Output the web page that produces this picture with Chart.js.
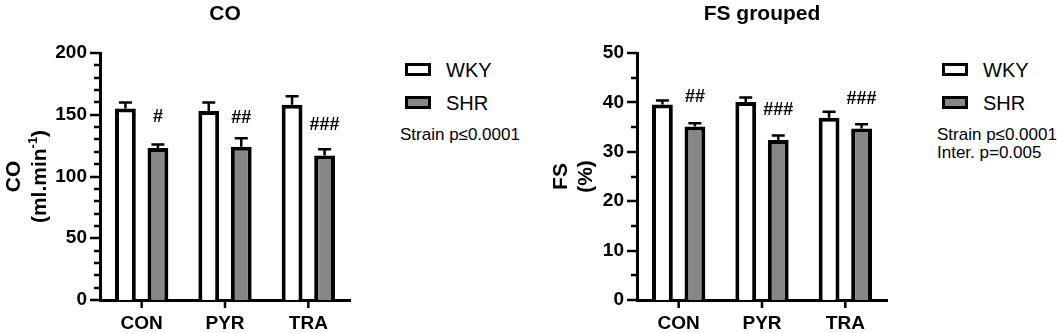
<!DOCTYPE html>
<html><head><meta charset="utf-8">
<script src="https://cdn.jsdelivr.net/npm/chart.js@4.4.1/dist/chart.umd.min.js"></script>
<style>
html,body{margin:0;padding:0;background:#fff;}
body{width:1057px;height:333px;position:relative;overflow:hidden;font-family:"Liberation Sans",Arial,sans-serif;color:#000;}
canvas{position:absolute;top:0;}
.sw{position:absolute;width:20px;height:7px;border:3px solid #000;}
.lt{position:absolute;font-size:20px;line-height:20px;white-space:nowrap;}
.st{position:absolute;font-size:17px;line-height:18px;white-space:nowrap;}
</style></head><body>
<canvas id="c1" width="365" height="333" style="left:0"></canvas>
<canvas id="c2" width="380" height="333" style="left:520px"></canvas>

<div class="sw" style="left:405px;top:63px;background:#fff"></div>
<div class="lt" style="left:446px;top:60px">WKY</div>
<div class="sw" style="left:405px;top:96px;background:#878787"></div>
<div class="lt" style="left:446px;top:93px">SHR</div>
<div class="st" style="left:400px;top:126px">Strain p≤0.0001</div>

<div class="sw" style="left:942px;top:63px;background:#fff"></div>
<div class="lt" style="left:983px;top:60px">WKY</div>
<div class="sw" style="left:942px;top:96px;background:#878787"></div>
<div class="lt" style="left:983px;top:93px">SHR</div>
<div class="st" style="left:937px;top:126px">Strain p≤0.0001</div>
<div class="st" style="left:937px;top:144px">Inter. p=0.005</div>

<script>
// ---- data ----
const categories = ['CON', 'PYR', 'TRA'];
const seriesNames = ['WKY', 'SHR'];

const coWKY = [155, 153, 158];
const coWKYsem = [5, 7, 7];
const coSHR = [123, 124, 117];
const coSHRsem = [3, 7, 5];
const coHash = ['#', '##', '###'];
const coHashAt = [148, 147, 142];
const coTicks = [0, 50, 100, 150, 200];

const fsWKY = [39.6, 40.1, 36.9];
const fsWKYsem = [0.8, 0.9, 1.2];
const fsSHR = [35.1, 32.4, 34.7];
const fsSHRsem = [0.7, 0.9, 0.9];
const fsHash = ['##', '###', '###'];
const fsHashAt = [41.1, 38.5, 40.7];
const fsTicks = [0, 10, 20, 30, 40, 50];

// ---- drawing ----
const FONT = '"Liberation Sans", Arial, sans-serif';

function drawRotated(ctx, parts, cx, cy) {
  ctx.save();
  ctx.translate(cx, cy);
  ctx.rotate(-Math.PI / 2);
  ctx.textBaseline = 'middle';
  ctx.textAlign = 'left';
  let w = 0;
  parts.forEach(p => { ctx.font = p.font; p.w = ctx.measureText(p.t).width; w += p.w; });
  let x = -w / 2;
  parts.forEach(p => { ctx.font = p.font; ctx.fillText(p.t, x, p.dy || 0); x += p.w; });
  ctx.restore();
}

const decoPlugin = {
  id: 'deco',
  afterDatasetsDraw(chart, args, o) {
    const ctx = chart.ctx, ca = chart.chartArea, ys = chart.scales.y, xs = chart.scales.x;
    ctx.save();
    ctx.strokeStyle = '#000';
    ctx.fillStyle = '#000';
    // error bars (upper SEM)
    chart.data.datasets.forEach((ds, di) => {
      const meta = chart.getDatasetMeta(di);
      meta.data.forEach((bar, i) => {
        const top = ys.getPixelForValue(ds.data[i] + ds.sem[i]);
        ctx.lineWidth = 2.5;
        ctx.beginPath();
        ctx.moveTo(bar.x, bar.y);
        ctx.lineTo(bar.x, top);
        ctx.moveTo(bar.x - 6.5, top);
        ctx.lineTo(bar.x + 6.5, top);
        ctx.stroke();
      });
    });
    // y ticks (major + minor)
    ctx.lineWidth = 2.5;
    for (let v = ys.min; v <= ys.max + 1e-9; v += o.minor) {
      const py = Math.round(ys.getPixelForValue(v));
      const major = Math.abs(v / o.major - Math.round(v / o.major)) < 1e-6;
      const len = major ? 10 : 6;
      ctx.beginPath();
      ctx.moveTo(ca.left - len, py);
      ctx.lineTo(ca.left, py);
      ctx.stroke();
    }
    // x category ticks
    categories.forEach((c, i) => {
      const px = xs.getPixelForValue(i);
      ctx.beginPath();
      ctx.moveTo(px, ca.bottom);
      ctx.lineTo(px, ca.bottom + 8);
      ctx.stroke();
    });
    // significance marks above SHR bars
    const shr = chart.getDatasetMeta(1);
    ctx.font = 'bold 18px ' + FONT;
    ctx.textAlign = 'center';
    ctx.textBaseline = 'middle';
    o.hash.forEach((h, i) => {
      ctx.fillText(h, shr.data[i].x, ys.getPixelForValue(o.hashAt[i]));
    });
    // title
    ctx.font = 'bold 21px ' + FONT;
    ctx.fillText(o.title, (ca.left + ca.right) / 2, 14);
    // y-axis title (two lines, rotated)
    const cy = (ca.top + ca.bottom) / 2;
    drawRotated(ctx, [{t: o.yTitle1, font: 'bold 21px ' + FONT}], o.yTitleX1, cy);
    drawRotated(ctx, o.yTitle2.map(p => ({t: p.t, font: (p.sup ? 'bold 13px ' : 'bold 21px ') + FONT, dy: p.sup ? -7 : 0})), o.yTitleX2, cy);
    ctx.restore();
  }
};

function makeChart(id, wky, wkySem, shr, shrSem, ticks, yWidth, rightPad, decoOpts) {
  const step = ticks[1] - ticks[0];
  return new Chart(document.getElementById(id), {
    type: 'bar',
    data: {
      labels: categories,
      datasets: [
        {label: seriesNames[0], data: wky, sem: wkySem, backgroundColor: '#ffffff', borderColor: '#000000', borderWidth: 4, borderSkipped: 'start'},
        {label: seriesNames[1], data: shr, sem: shrSem, backgroundColor: '#878787', borderColor: '#000000', borderWidth: 4, borderSkipped: 'start'}
      ]
    },
    options: {
      responsive: false,
      animation: false,
      devicePixelRatio: 1,
      events: [],
      layout: {padding: {top: 53, right: rightPad, left: 0, bottom: 0}},
      datasets: {bar: {barPercentage: 0.64, categoryPercentage: 0.78}},
      plugins: {legend: {display: false}, title: {display: false}, tooltip: {enabled: false}, deco: decoOpts},
      scales: {
        x: {
          grid: {display: false, drawTicks: false},
          border: {display: true, color: '#000', width: 3},
          ticks: {color: '#000', font: {family: FONT, size: 19, weight: 'bold'}, padding: 12, maxRotation: 0},
          afterFit: a => { a.height = 33; }
        },
        y: {
          min: ticks[0], max: ticks[ticks.length - 1],
          grid: {display: false, drawTicks: false},
          border: {display: true, color: '#000', width: 3},
          ticks: {stepSize: step, color: '#000', font: {family: FONT, size: 19, weight: 'bold'}, padding: 13},
          afterFit: a => { a.width = yWidth; }
        }
      }
    },
    plugins: [decoPlugin]
  });
}

makeChart('c1', coWKY, coWKYsem, coSHR, coSHRsem, coTicks, 100, 15, {
  title: 'CO', major: 50, minor: 10, hash: coHash, hashAt: coHashAt,
  yTitle1: 'CO', yTitleX1: 14, yTitleX2: 40,
  yTitle2: [{t: '(ml.min'}, {t: '-1', sup: true}, {t: ')'}]
});
makeChart('c2', fsWKY, fsWKYsem, fsSHR, fsSHRsem, fsTicks, 117, 13, {
  title: 'FS grouped', major: 10, minor: 5, hash: fsHash, hashAt: fsHashAt,
  yTitle1: 'FS', yTitleX1: 41, yTitleX2: 66,
  yTitle2: [{t: '(%)'}]
});
</script>
</body></html>
